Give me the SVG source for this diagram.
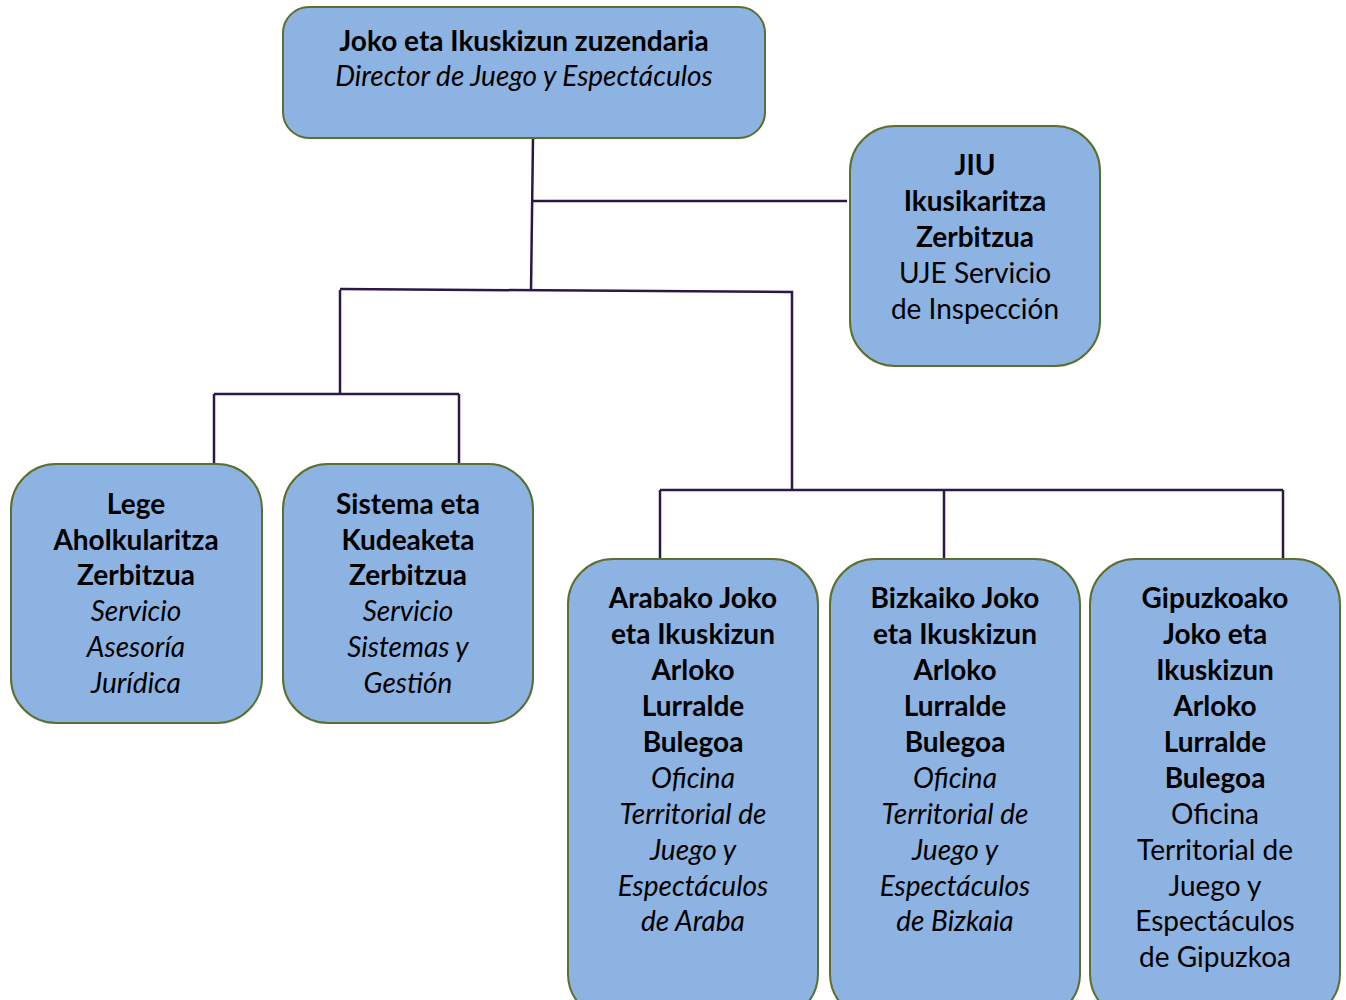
<svg xmlns="http://www.w3.org/2000/svg" width="1346" height="1000" viewBox="0 0 1346 1000">
<style>
.box{fill:#8DB3E2;stroke:#5B6F2E;stroke-width:2}
.t{font-family:Lato,"Open Sans","Liberation Sans",sans-serif;font-size:28px;fill:#000;text-anchor:middle}
.b{font-weight:bold}
.i{font-style:italic}
.c{stroke:#2B1848;stroke-width:2.5;fill:none}
</style>
<rect width="1346" height="1000" fill="#fff"/>
<g id="connectors">
<path class="c" d="M533,138 L531,291"/>
<path class="c" d="M533,201 L847,201"/>
<path class="c" d="M340,289 L792,292 L792,490"/>
<path class="c" d="M340,290 L340,394 M214,394 L459,394 M214,394 L214,463 M459,394 L459,463"/>
<path class="c" d="M660,490 L1283,490 M660,490 L660,558 M944,490 L944,558 M1283,490 L1283,558"/>
</g>
<g id="director">
<rect class="box" x="283" y="7" width="482" height="131" rx="26"/>
<text class="t b" x="524" y="51">Joko eta Ikuskizun zuzendaria</text>
<text class="t i" x="524" y="86">Director de Juego y Espectáculos</text>
</g>
<g id="jiu">
<rect class="box" x="850" y="126" width="250" height="240" rx="45"/>
<text class="t b" x="975" y="175">JIU</text>
<text class="t b" x="975" y="211">Ikusikaritza</text>
<text class="t b" x="975" y="247">Zerbitzua</text>
<text class="t" x="975" y="283">UJE Servicio</text>
<text class="t" x="975" y="319">de Inspección</text>
</g>
<g id="lege">
<rect class="box" x="11" y="464" width="251" height="259" rx="45"/>
<text class="t b" x="136" y="514">Lege</text>
<text class="t b" x="136" y="550">Aholkularitza</text>
<text class="t b" x="136" y="585">Zerbitzua</text>
<text class="t i" x="136" y="621">Servicio</text>
<text class="t i" x="136" y="657">Asesoría</text>
<text class="t i" x="136" y="693">Jurídica</text>
</g>
<g id="sistema">
<rect class="box" x="283" y="464" width="250" height="259" rx="45"/>
<text class="t b" x="408" y="514">Sistema eta</text>
<text class="t b" x="408" y="550">Kudeaketa</text>
<text class="t b" x="408" y="585">Zerbitzua</text>
<text class="t i" x="408" y="621">Servicio</text>
<text class="t i" x="408" y="657">Sistemas y</text>
<text class="t i" x="408" y="693">Gestión</text>
</g>
<g id="araba">
<rect class="box" x="568" y="559" width="250" height="460" rx="45"/>
<text class="t b" x="693" y="608">Arabako Joko</text>
<text class="t b" x="693" y="644">eta Ikuskizun</text>
<text class="t b" x="693" y="680">Arloko</text>
<text class="t b" x="693" y="716">Lurralde</text>
<text class="t b" x="693" y="752">Bulegoa</text>
<text class="t i" x="693" y="788">Oficina</text>
<text class="t i" x="693" y="824">Territorial de</text>
<text class="t i" x="693" y="860">Juego y</text>
<text class="t i" x="693" y="896">Espectáculos</text>
<text class="t i" x="693" y="931">de Araba</text>
</g>
<g id="bizkaia">
<rect class="box" x="830" y="559" width="250" height="460" rx="45"/>
<text class="t b" x="955" y="608">Bizkaiko Joko</text>
<text class="t b" x="955" y="644">eta Ikuskizun</text>
<text class="t b" x="955" y="680">Arloko</text>
<text class="t b" x="955" y="716">Lurralde</text>
<text class="t b" x="955" y="752">Bulegoa</text>
<text class="t i" x="955" y="788">Oficina</text>
<text class="t i" x="955" y="824">Territorial de</text>
<text class="t i" x="955" y="860">Juego y</text>
<text class="t i" x="955" y="896">Espectáculos</text>
<text class="t i" x="955" y="931">de Bizkaia</text>
</g>
<g id="gipuzkoa">
<rect class="box" x="1090" y="559" width="250" height="460" rx="45"/>
<text class="t b" x="1215" y="608">Gipuzkoako</text>
<text class="t b" x="1215" y="644">Joko eta</text>
<text class="t b" x="1215" y="680">Ikuskizun</text>
<text class="t b" x="1215" y="716">Arloko</text>
<text class="t b" x="1215" y="752">Lurralde</text>
<text class="t b" x="1215" y="788">Bulegoa</text>
<text class="t" x="1215" y="824">Oficina</text>
<text class="t" x="1215" y="860">Territorial de</text>
<text class="t" x="1215" y="896">Juego y</text>
<text class="t" x="1215" y="931">Espectáculos</text>
<text class="t" x="1215" y="967">de Gipuzkoa</text>
</g>
</svg>
